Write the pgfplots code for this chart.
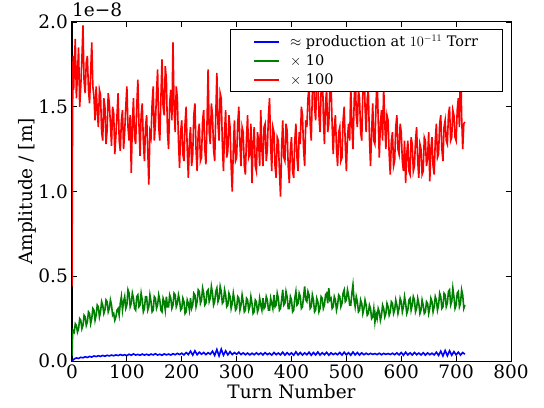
\documentclass[border=0pt]{standalone}
\usepackage{fontspec}
\setmainfont{DejaVu Serif}
\usepackage{pgfplots}
\pgfplotsset{compat=1.18}
\definecolor{mblue}{RGB}{0,0,255}
\definecolor{mgreen}{RGB}{0,128,0}
\definecolor{mred}{RGB}{255,0,0}
\begin{document}
\begin{tikzpicture}
\begin{axis}[
  name=ax,
  scale only axis,
  width=439pt, height=339pt,
  xmin=0, xmax=800, ymin=0, ymax=2.0,
  xtick={0,100,...,800}, ytick={0,0.5,1.0,1.5,2.0},
  /pgf/number format/assume math mode=true,
  yticklabel style={/pgf/number format/fixed, /pgf/number format/fixed zerofill, /pgf/number format/precision=1, xshift=-4pt},
  tick label style={font=\fontsize{18.5}{22}\selectfont, inner sep=0pt},
  xticklabel style={yshift=-4pt},
  label style={font=\fontsize{18.5}{22}\selectfont},
  xlabel={Turn Number}, ylabel={Amplitude / [m]},
  xlabel style={at={(axis description cs:0.5,0)}, anchor=base, yshift=-37pt},
  ylabel style={at={(axis description cs:0,0.5)}, anchor=base, yshift=39pt},
  major tick length=5pt,
  tick style={black, line width=0.8pt},
  axis line style={black, line width=1pt},
  legend image code/.code={\draw[#1, line width=2pt] (0pt,0pt) -- (25pt,0pt); \path (34pt,0pt);},
  legend style={at={(0.981,0.980)}, anchor=north east,
    font=\fontsize{14.5}{17}\selectfont, inner xsep=23.5pt, inner ysep=5pt,
    nodes={inner sep=1pt}, row sep=4.5pt},
  legend cell align=left,
]
\addplot[color=mblue, line width=1.6pt] coordinates {
(0,0.0) (4,0.012) (8,0.018) (12,0.015) (16,0.022) (20,0.019) (24,0.025) (28,0.021) (32,0.027) (36,0.023)
(40,0.030) (44,0.026) (48,0.031) (52,0.027) (56,0.033) (60,0.028) (64,0.034) (68,0.030) (72,0.035) (76,0.031)
(80,0.036) (84,0.032) (88,0.038) (92,0.033) (96,0.037) (100,0.032) (104,0.040) (108,0.034) (112,0.042) (116,0.035)
(120,0.039) (124,0.034) (128,0.041) (132,0.035) (136,0.040) (140,0.034) (144,0.041) (148,0.036) (152,0.043) (156,0.035)
(160,0.040) (164,0.034) (168,0.042) (172,0.036) (176,0.041) (180,0.035) (184,0.043) (188,0.037) (192,0.045) (196,0.038)
(200,0.046) (204,0.036) (208,0.050) (212,0.038) (216,0.058) (220,0.035) (224,0.060) (228,0.037) (232,0.052) (236,0.040)
(240,0.050) (244,0.038) (248,0.049) (252,0.040) (256,0.058) (260,0.033) (264,0.068) (268,0.030) (272,0.070) (276,0.034)
(280,0.060) (284,0.036) (288,0.055) (292,0.038) (296,0.050) (300,0.040) (304,0.052) (308,0.038) (312,0.048) (316,0.037)
(320,0.047) (324,0.036) (328,0.046) (332,0.037) (336,0.048) (340,0.038) (344,0.047) (348,0.036) (352,0.049) (356,0.038)
(360,0.046) (364,0.035) (368,0.050) (372,0.037) (376,0.047) (380,0.036) (384,0.052) (388,0.035) (392,0.049) (396,0.037)
(400,0.048) (404,0.034) (408,0.054) (412,0.036) (416,0.050) (420,0.035) (424,0.048) (428,0.037) (432,0.052) (436,0.034)
(440,0.050) (444,0.036) (448,0.053) (452,0.035) (456,0.049) (460,0.037) (464,0.051) (468,0.035) (472,0.048) (476,0.038)
(480,0.046) (484,0.037) (488,0.050) (492,0.035) (496,0.052) (500,0.036) (504,0.049) (508,0.034) (512,0.053) (516,0.036)
(520,0.050) (524,0.035) (528,0.048) (532,0.037) (536,0.046) (540,0.038) (544,0.045) (548,0.039) (552,0.044) (556,0.038)
(560,0.046) (564,0.037) (568,0.045) (572,0.039) (576,0.044) (580,0.038) (584,0.046) (588,0.037) (592,0.048) (596,0.036)
(600,0.050) (604,0.034) (608,0.052) (612,0.036) (616,0.048) (620,0.035) (624,0.050) (628,0.037) (632,0.047) (636,0.036)
(640,0.049) (644,0.035) (648,0.048) (652,0.037) (656,0.046) (660,0.036) (664,0.052) (668,0.033) (672,0.058) (676,0.030)
(680,0.062) (684,0.031) (688,0.060) (692,0.034) (696,0.055) (700,0.036) (704,0.052) (708,0.035) (712,0.050) (716,0.040)
};
\addlegendentry{$\approx$ production at $10^{-11}$ Torr}
\addplot[color=mgreen, line width=1.6pt] coordinates {
(0,0.03) (1,0.15) (2,0.18) (4,0.17) (6,0.22) (8,0.21) (10,0.17) (12,0.19) (14,0.25) (16,0.24) (18,0.19) (20,0.21)
(22,0.27) (24,0.26) (26,0.21) (28,0.23) (30,0.29) (32,0.28) (34,0.22) (36,0.25) (38,0.31) (40,0.30) (42,0.24)
(44,0.27) (46,0.33) (48,0.32) (50,0.26) (52,0.29) (54,0.35) (56,0.33) (58,0.28) (60,0.30) (62,0.36) (64,0.35)
(66,0.29) (68,0.31) (70,0.36) (72,0.33) (74,0.27) (76,0.28) (78,0.24) (80,0.26) (82,0.30) (84,0.31) (86,0.27)
(88,0.34) (90,0.38) (92,0.30) (94,0.35) (96,0.38) (98,0.31) (100,0.33) (102,0.42) (104,0.40) (106,0.32) (108,0.34)
(110,0.40) (112,0.37) (114,0.31) (116,0.30) (118,0.38) (120,0.39) (122,0.32) (124,0.33) (126,0.40) (128,0.36)
(130,0.29) (132,0.31) (134,0.38) (136,0.38) (138,0.30) (140,0.32) (142,0.39) (144,0.35) (146,0.29) (148,0.30)
(150,0.38) (152,0.37) (154,0.31) (156,0.33) (158,0.39) (160,0.36) (162,0.30) (164,0.29) (166,0.37) (168,0.35)
(170,0.30) (172,0.38) (174,0.32) (176,0.32) (178,0.39) (180,0.37) (182,0.31) (184,0.33) (186,0.40) (188,0.39)
(190,0.32) (192,0.34) (194,0.39) (196,0.36) (198,0.30) (200,0.31) (202,0.37) (204,0.35) (206,0.28) (208,0.29)
(210,0.36) (212,0.34) (214,0.30) (216,0.37) (218,0.31) (220,0.33) (222,0.40) (224,0.39) (226,0.32) (228,0.35)
(230,0.42) (232,0.41) (234,0.34) (236,0.36) (238,0.43) (240,0.40) (242,0.33) (244,0.34) (246,0.41) (248,0.42)
(250,0.35) (252,0.37) (254,0.44) (256,0.40) (258,0.33) (260,0.35) (262,0.41) (264,0.43) (266,0.35) (268,0.37)
(270,0.44) (272,0.41) (274,0.34) (276,0.35) (278,0.42) (280,0.39) (282,0.32) (284,0.33) (286,0.40) (288,0.38)
(290,0.31) (292,0.34) (294,0.40) (296,0.36) (298,0.30) (300,0.31) (302,0.38) (304,0.37) (306,0.30) (308,0.33)
(310,0.39) (312,0.35) (314,0.29) (316,0.30) (318,0.37) (320,0.36) (322,0.30) (324,0.32) (326,0.38) (328,0.34)
(330,0.28) (332,0.29) (334,0.36) (336,0.35) (338,0.29) (340,0.31) (342,0.37) (344,0.33) (346,0.30) (348,0.37)
(350,0.31) (352,0.32) (354,0.38) (356,0.36) (358,0.30) (360,0.30) (362,0.37) (364,0.34) (366,0.31) (368,0.39)
(370,0.32) (372,0.33) (374,0.40) (376,0.37) (378,0.30) (380,0.31) (382,0.36) (384,0.42) (386,0.33) (388,0.34)
(390,0.41) (392,0.38) (394,0.31) (396,0.31) (398,0.38) (400,0.36) (402,0.29) (404,0.30) (406,0.37) (408,0.41)
(410,0.33) (412,0.34) (414,0.40) (416,0.38) (418,0.31) (420,0.32) (422,0.38) (424,0.44) (426,0.36) (428,0.35)
(430,0.41) (432,0.39) (434,0.31) (436,0.32) (438,0.39) (440,0.36) (442,0.29) (444,0.30) (446,0.37) (448,0.35)
(450,0.29) (452,0.31) (454,0.38) (456,0.37) (458,0.31) (460,0.33) (462,0.39) (464,0.40) (466,0.34) (468,0.43)
(470,0.36) (472,0.37) (474,0.31) (476,0.32) (478,0.38) (480,0.36) (482,0.30) (484,0.33) (486,0.39) (488,0.38)
(490,0.32) (492,0.34) (494,0.40) (496,0.42) (498,0.35) (500,0.36) (502,0.42) (504,0.39) (506,0.33) (508,0.33)
(510,0.40) (512,0.45) (514,0.36) (516,0.32) (518,0.38) (520,0.35) (522,0.29) (524,0.30) (526,0.36) (528,0.34)
(530,0.28) (532,0.31) (534,0.36) (536,0.33) (538,0.27) (540,0.28) (542,0.33) (544,0.31) (546,0.25) (548,0.26)
(550,0.31) (552,0.23) (554,0.28) (556,0.25) (558,0.31) (560,0.29) (562,0.24) (564,0.27) (566,0.33) (568,0.31)
(570,0.26) (572,0.28) (574,0.34) (576,0.32) (578,0.27) (580,0.29) (582,0.35) (584,0.34) (586,0.28) (588,0.30)
(590,0.36) (592,0.33) (594,0.28) (596,0.31) (598,0.37) (600,0.35) (602,0.29) (604,0.32) (606,0.38) (608,0.34)
(610,0.28) (612,0.30) (614,0.36) (616,0.37) (618,0.30) (620,0.33) (622,0.38) (624,0.36) (626,0.29) (628,0.31)
(630,0.37) (632,0.34) (634,0.28) (636,0.30) (638,0.36) (640,0.33) (642,0.28) (644,0.29) (646,0.35) (648,0.34)
(650,0.28) (652,0.31) (654,0.37) (656,0.35) (658,0.29) (660,0.32) (662,0.38) (664,0.36) (666,0.30) (668,0.33)
(670,0.40) (672,0.38) (674,0.31) (676,0.32) (678,0.40) (680,0.39) (682,0.32) (684,0.34) (686,0.41) (688,0.42)
(690,0.33) (692,0.35) (694,0.43) (696,0.38) (698,0.31) (700,0.33) (702,0.40) (704,0.41) (706,0.32) (708,0.34)
(710,0.42) (712,0.39) (714,0.31) (716,0.33)
};
\addlegendentry{$\times$ 10}
\addplot[color=mred, line width=1.6pt] coordinates {
(0,0.44) (1,1.45) (2,1.80) (3,1.60) (4,1.72) (6,1.90) (8,1.55) (10,1.70) (12,1.85) (14,1.50) (16,1.62) (18,1.78)
(20,1.98) (22,1.65) (24,1.58) (26,1.76) (28,1.80) (30,1.60) (32,1.52) (34,1.70) (36,1.88) (38,1.62) (40,1.56)
(42,1.42) (44,1.62) (46,1.48) (48,1.38) (50,1.60) (52,1.57) (54,1.35) (56,1.30) (58,1.55) (60,1.50) (62,1.28)
(64,1.36) (66,1.58) (68,1.52) (70,1.40) (72,1.27) (74,1.50) (76,1.46) (78,1.22) (80,1.33) (82,1.45) (84,1.58)
(86,1.30) (88,1.24) (90,1.42) (92,1.48) (94,1.25) (96,1.35) (98,1.50) (100,1.62) (102,1.38) (104,1.30) (106,1.45)
(108,1.11) (110,1.40) (112,1.55) (114,1.32) (116,1.28) (118,1.50) (120,1.66) (122,1.40) (124,1.21) (126,1.45)
(128,1.52) (130,1.30) (132,1.18) (134,1.38) (136,1.45) (138,1.25) (140,1.04) (142,1.35) (144,1.32) (146,1.52)
(148,1.62) (150,1.30) (152,1.40) (154,1.58) (156,1.72) (158,1.38) (160,1.30) (162,1.55) (164,1.78) (166,1.50)
(168,1.45) (170,1.74) (172,1.66) (174,1.35) (176,1.25) (178,1.52) (180,1.60) (182,1.42) (184,1.88) (186,1.50)
(188,1.35) (190,1.62) (192,1.55) (194,1.30) (196,1.14) (198,1.35) (200,1.42) (202,1.22) (204,1.18) (206,1.40)
(208,1.50) (210,1.25) (212,1.08) (214,1.30) (216,1.38) (218,1.15) (220,1.22) (222,1.45) (224,1.52) (226,1.25)
(228,1.12) (230,1.35) (232,1.40) (234,1.18) (236,1.20) (238,1.42) (240,1.48) (242,1.25) (244,1.16) (246,1.40)
(248,1.72) (250,1.35) (252,1.28) (254,1.52) (256,1.45) (258,1.25) (260,1.18) (262,1.45) (264,1.70) (266,1.40)
(268,1.30) (270,1.58) (272,1.55) (274,1.28) (276,1.12) (278,1.35) (280,1.48) (282,1.20) (284,1.24) (286,1.45)
(288,1.38) (290,1.15) (292,1.00) (294,1.25) (296,1.42) (298,1.18) (300,1.20) (302,1.40) (304,1.50) (306,1.28)
(308,1.15) (310,1.38) (312,1.35) (314,1.15) (316,1.10) (318,1.32) (320,1.45) (322,1.20) (324,1.22) (326,1.40)
(328,1.05) (330,1.28) (332,1.38) (334,1.15) (336,1.12) (338,1.35) (340,1.30) (342,1.15) (344,1.48) (346,1.25)
(348,1.15) (350,1.38) (352,1.40) (354,1.18) (356,1.25) (358,1.45) (360,1.55) (362,1.28) (364,1.12) (366,1.38)
(368,1.35) (370,1.15) (372,1.08) (374,1.32) (376,1.30) (378,1.12) (380,0.97) (382,1.25) (384,1.42) (386,1.20)
(388,1.18) (390,1.40) (392,1.36) (394,1.15) (396,1.05) (398,1.25) (400,1.32) (402,1.12) (404,1.08) (406,1.30)
(408,1.40) (410,1.20) (412,1.12) (414,1.35) (416,1.28) (418,1.50) (420,1.45) (422,1.25) (424,1.15) (426,1.42)
(428,1.38) (430,1.55) (432,1.62) (434,1.40) (436,1.30) (438,1.58) (440,1.85) (442,1.50) (444,1.42) (446,1.65)
(448,1.70) (450,1.45) (452,1.35) (454,1.60) (456,1.78) (458,1.45) (460,1.28) (462,1.52) (464,1.60) (466,1.35)
(468,1.40) (470,1.62) (472,1.65) (474,1.40) (476,1.22) (478,1.38) (480,1.45) (482,1.25) (484,1.15) (486,1.35)
(488,1.38) (490,1.18) (492,1.20) (494,1.42) (496,1.50) (498,1.28) (500,1.12) (502,1.32) (504,1.40) (506,1.30)
(508,1.62) (510,1.40) (512,1.25) (514,1.50) (516,1.75) (518,1.45) (520,1.38) (522,1.60) (524,1.55) (526,1.35)
(528,1.30) (530,1.58) (532,1.82) (534,1.50) (536,1.35) (538,1.55) (540,1.60) (542,1.32) (544,1.15) (546,1.35)
(548,1.52) (550,1.30) (552,1.28) (554,1.50) (556,1.70) (558,1.42) (560,1.20) (562,1.40) (564,1.48) (566,1.30)
(568,1.62) (570,1.40) (572,1.25) (574,1.45) (576,1.42) (578,1.22) (580,1.10) (582,1.30) (584,1.35) (586,1.15)
(588,1.18) (590,1.38) (592,1.45) (594,1.25) (596,1.22) (598,1.40) (600,1.35) (602,1.18) (604,1.12) (606,1.30)
(608,1.05) (610,1.22) (612,1.30) (614,1.12) (616,1.10) (618,1.32) (620,1.28) (622,1.12) (624,1.15) (626,1.30)
(628,1.38) (630,1.18) (632,1.08) (634,1.28) (636,1.25) (638,1.10) (640,1.12) (642,1.32) (644,1.30) (646,1.15)
(648,1.20) (650,1.35) (652,1.06) (654,1.25) (656,1.32) (658,1.15) (660,1.10) (662,1.30) (664,1.40) (666,1.20)
(668,1.22) (670,1.40) (672,1.45) (674,1.25) (676,1.18) (678,1.38) (680,1.42) (682,1.30) (684,1.28) (686,1.45)
(688,1.50) (690,1.30) (692,1.32) (694,1.48) (696,1.45) (698,1.32) (700,1.30) (702,1.48) (704,1.55) (706,1.38)
(708,1.82) (710,1.45) (712,1.25) (714,1.40) (716,1.41)
};
\addlegendentry{$\times$ 100}
\end{axis}
\node[anchor=base west, inner sep=0pt, font=\fontsize{18.5}{22}\selectfont] at ([yshift=5pt]ax.north west) {1e−8};
\pgfresetboundingbox
\path ([shift={(-72pt,-46pt)}]ax.south west) rectangle ([shift={(33pt,22pt)}]ax.north east);
\end{tikzpicture}
\end{document}
